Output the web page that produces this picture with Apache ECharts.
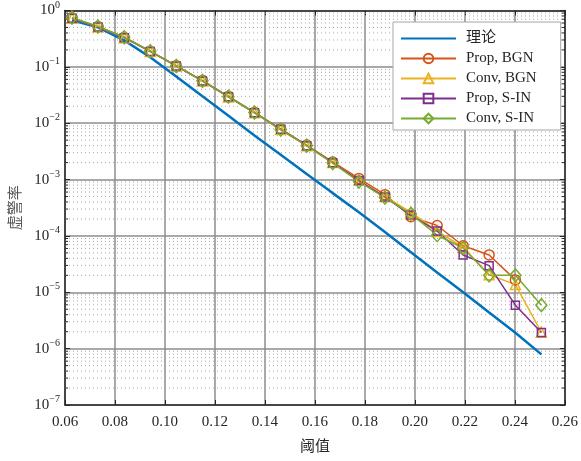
<!DOCTYPE html>
<html>
<head>
<meta charset="utf-8">
<script src="https://cdn.jsdelivr.net/npm/echarts@6/dist/echarts.min.js"></script>
<style>
  html, body { margin: 0; padding: 0; background: #ffffff; }
  #chart { width: 581px; height: 461px; }
</style>
</head>
<body>
<div id="chart"></div>
<script>
// Detection threshold (x) and false-alarm probability for each curve
const thresholds = [0.0628, 0.0732, 0.0837, 0.0941, 0.1045, 0.1150, 0.1254, 0.1358, 0.1463, 0.1567,
                    0.1671, 0.1776, 0.1880, 0.1984, 0.2089, 0.2193, 0.2297, 0.2402, 0.2506];

const theory   = [0.668, 0.501, 0.295, 0.148, 0.0676, 0.0302, 0.0135, 6.03e-3, 2.75e-3, 1.26e-3,
                  5.75e-4, 2.63e-4, 1.17e-4, 5.13e-5, 2.24e-5, 1.0e-5, 4.37e-6, 1.91e-6, 7.9e-7];
const propBGN  = [0.74, 0.52, 0.335, 0.19, 0.105, 0.057, 0.030, 0.0156, 0.0079, 0.0041,
                  2.05e-3, 1.05e-3, 5.4e-4, 2.2e-4, 1.53e-4, 6.7e-5, 4.6e-5, 1.66e-5];
const convBGN  = [0.73, 0.51, 0.33, 0.187, 0.103, 0.056, 0.0293, 0.0153, 0.0077, 0.0040,
                  2.0e-3, 9.8e-4, 5.0e-4, 2.65e-4, 1.2e-4, 6.3e-5, 2.05e-5, 1.37e-5, 1.95e-6];
const propSIN  = [0.73, 0.51, 0.33, 0.188, 0.104, 0.0562, 0.0295, 0.0154, 0.0078, 0.0040,
                  1.99e-3, 9.6e-4, 4.9e-4, 2.35e-4, 1.22e-4, 4.6e-5, 2.97e-5, 5.9e-6, 1.94e-6];
const convSIN  = [0.745, 0.52, 0.335, 0.19, 0.104, 0.0565, 0.0296, 0.0155, 0.0077, 0.0040,
                  1.96e-3, 9.2e-4, 4.8e-4, 2.47e-4, 1.03e-4, 6.1e-5, 2.0e-5, 2.0e-5, 5.9e-6];

const seriesNames = ['理论', 'Prop, BGN', 'Conv, BGN', 'Prop, S-IN', 'Conv, S-IN'];
const xTitle = '阈值';
const yTitle = '虚警率';

const X_MIN = 0.06, X_MAX = 0.26, X_STEP = 0.02;
const Y_MIN = 1e-7, Y_MAX = 1;

const FONT = "'Liberation Serif', 'Times New Roman', 'Noto Sans CJK SC', serif";
const INK = '#262626';

function pairs(values) {
  return values.map((v, i) => [thresholds[i], v]);
}

// Minor log grid values (2..9 x 10^k), drawn as dotted rules plus short inner ticks
const minorVals = [];
for (let e = -7; e < 0; e++) {
  for (let m = 2; m <= 9; m++) minorVals.push(m * Math.pow(10, e));
}

function renderMinor(params, api) {
  const v = api.value(0);
  const a = api.coord([X_MIN, v]);
  const b = api.coord([X_MAX, v]);
  return {
    type: 'group',
    children: [
      {
        type: 'line',
        shape: { x1: a[0], y1: a[1], x2: b[0], y2: b[1] },
        style: { stroke: '#a8a8a8', lineWidth: 1, lineDash: [1, 3] },
        z2: 0
      },
      {
        type: 'line',
        shape: { x1: a[0], y1: a[1], x2: a[0] + 3, y2: a[1] },
        style: { stroke: INK, lineWidth: 1 },
        z2: 1
      },
      {
        type: 'line',
        shape: { x1: b[0] - 3, y1: b[1], x2: b[0], y2: b[1] },
        style: { stroke: INK, lineWidth: 1 },
        z2: 1
      }
    ]
  };
}

function markedSeries(name, values, color, symbol, size) {
  return {
    name: name,
    type: 'line',
    data: pairs(values),
    symbol: symbol,
    symbolSize: size,
    showSymbol: true,
    lineStyle: { color: color, width: 1.5 },
    itemStyle: { color: 'rgba(255,255,255,0)', borderColor: color, borderWidth: 1.5 },
    emphasis: { disabled: true },
    z: 3
  };
}

const supFmt = v => {
  const e = Math.round(Math.log10(v));
  return '{b|10}{s|' + (e === 0 ? '0' : '\u2212' + (-e)) + '}';
};

const chart = echarts.init(document.getElementById('chart'), null, { renderer: 'canvas' });

const option = {
  animation: false,
  backgroundColor: '#ffffff',
  textStyle: { fontFamily: FONT, color: INK },
  grid: { left: 65, right: 15, top: 6, bottom: 56, containLabel: false },
  legend: {
    data: [
      { name: seriesNames[0], itemStyle: { opacity: 0 } },
      seriesNames[1], seriesNames[2], seriesNames[3], seriesNames[4]
    ],
    orient: 'vertical',
    left: 393,
    top: 22,
    itemWidth: 55,
    itemHeight: 12,
    itemGap: 5,
    padding: [9, 24, 4, 7],
    backgroundColor: '#ffffff',
    borderColor: '#a6a6a6',
    borderWidth: 1,
    borderRadius: 0,
    textStyle: { fontFamily: FONT, fontSize: 15, color: INK, padding: [0, 0, 0, 5] }
  },
  xAxis: [
    {
      type: 'value', min: X_MIN, max: X_MAX, interval: X_STEP,
      name: xTitle, nameLocation: 'middle', nameGap: 35,
      nameTextStyle: { fontFamily: FONT, fontSize: 15, color: INK },
      axisLine: { show: true, onZero: false, lineStyle: { color: INK, width: 1.5 } },
      axisTick: { show: true, inside: true, length: 5, lineStyle: { color: INK, width: 1 } },
      axisLabel: { fontFamily: FONT, fontSize: 15, color: INK, margin: 10, formatter: v => v.toFixed(2) },
      splitLine: { show: true, lineStyle: { color: '#8d8d8d', width: 1.5 } }
    },
    {
      type: 'value', position: 'top', min: X_MIN, max: X_MAX, interval: X_STEP,
      axisLine: { show: true, onZero: false, lineStyle: { color: INK, width: 1.5 } },
      axisTick: { show: true, inside: true, length: 5, lineStyle: { color: INK, width: 1 } },
      axisLabel: { show: false },
      splitLine: { show: false }
    }
  ],
  yAxis: [
    {
      type: 'log', logBase: 10, min: Y_MIN, max: Y_MAX,
      name: yTitle, nameLocation: 'middle', nameGap: 37, nameRotate: 90,
      nameTextStyle: { fontFamily: FONT, fontSize: 15, color: '#555555' },
      axisLine: { show: true, onZero: false, lineStyle: { color: INK, width: 1.5 } },
      axisTick: { show: true, inside: true, length: 5, lineStyle: { color: INK, width: 1 } },
      axisLabel: {
        margin: 5,
        formatter: supFmt,
        rich: {
          b: { fontFamily: FONT, fontSize: 15, color: INK },
          s: { fontFamily: FONT, fontSize: 10, color: INK, padding: [0, 0, 11, 0] }
        }
      },
      splitLine: { show: true, lineStyle: { color: '#8d8d8d', width: 1.5 } }
    },
    {
      type: 'log', logBase: 10, min: Y_MIN, max: Y_MAX, position: 'right',
      axisLine: { show: true, onZero: false, lineStyle: { color: INK, width: 1.5 } },
      axisTick: { show: true, inside: true, length: 5, lineStyle: { color: INK, width: 1 } },
      axisLabel: { show: false },
      splitLine: { show: false }
    }
  ],
  series: [
    {
      name: '__minorGrid',
      type: 'custom',
      silent: true,
      z: 1,
      clip: true,
      encode: { y: 0 },
      data: minorVals.map(v => [v]),
      renderItem: renderMinor
    },
    {
      name: seriesNames[0],
      type: 'line',
      data: pairs(theory),
      symbol: 'none',
      lineStyle: { color: '#0072BD', width: 2.5 },
      itemStyle: { color: '#0072BD' },
      emphasis: { disabled: true },
      z: 3
    },
    markedSeries(seriesNames[1], propBGN, '#D95319', 'circle', 10),
    markedSeries(seriesNames[2], convBGN, '#EDB120', 'triangle', 10),
    markedSeries(seriesNames[3], propSIN, '#7E2F8E', 'rect', 8),
    markedSeries(seriesNames[4], convSIN, '#77AC30', 'diamond', [11, 13])
  ]
};

chart.setOption(option);
</script>
</body>
</html>
